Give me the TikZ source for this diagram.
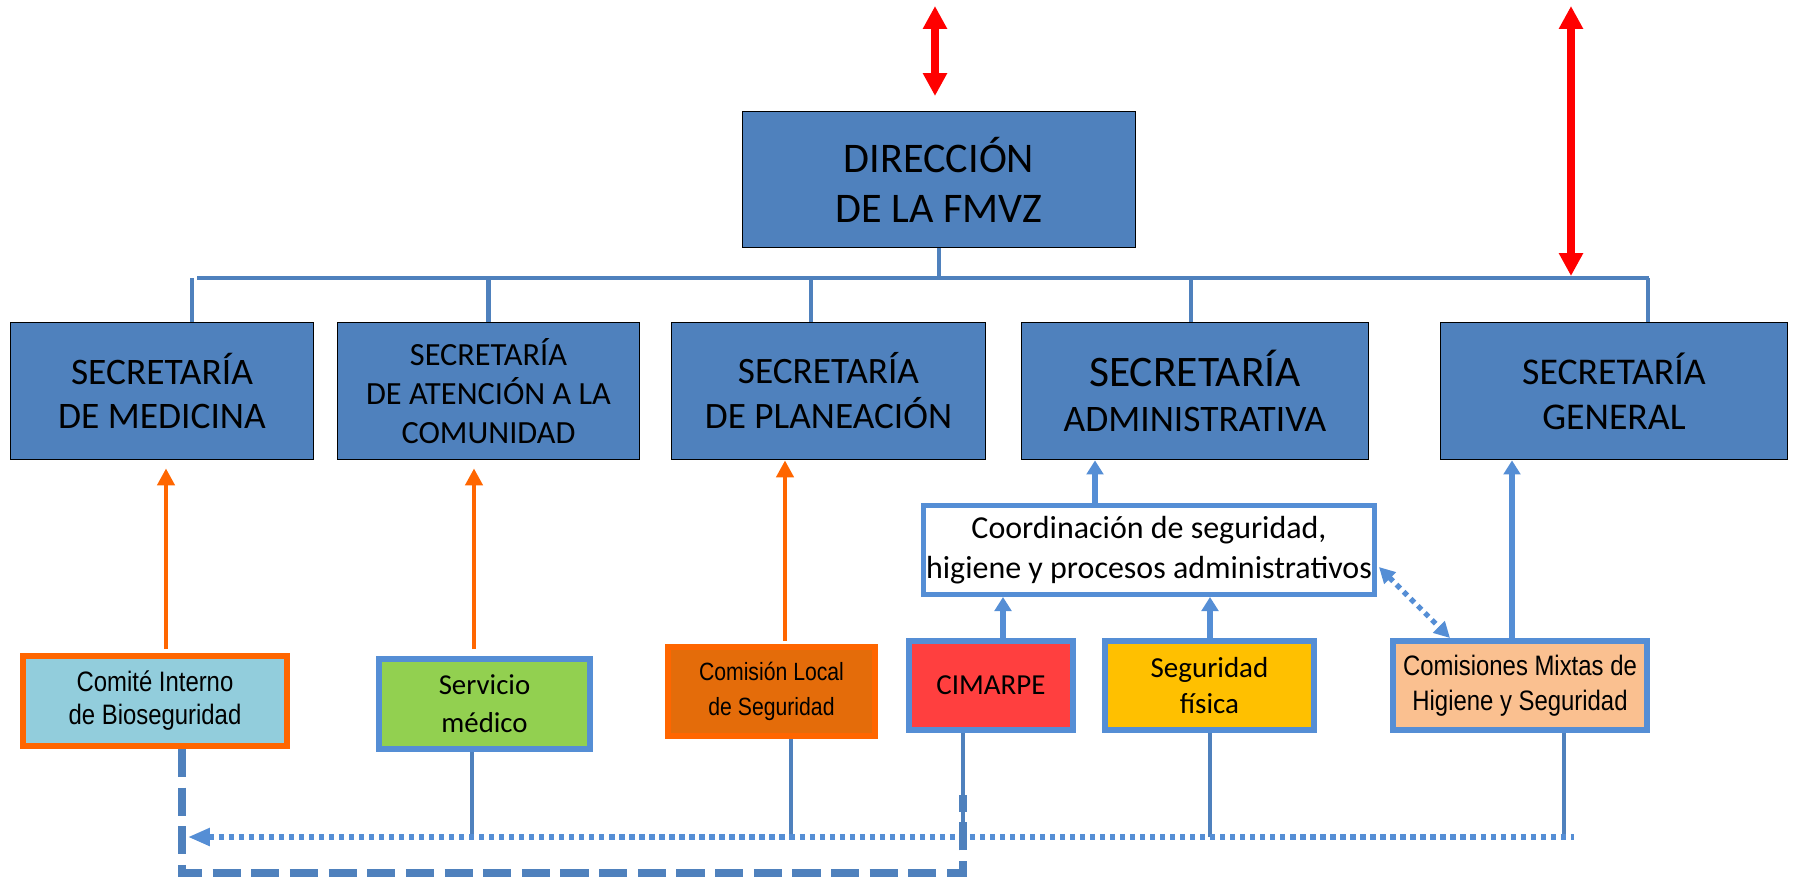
\documentclass[tikz,border=0pt]{standalone}
\usepackage{fontspec}
\newfontfamily\calib{Carlito}
\newfontfamily\narial[FakeStretch=0.85]{Liberation Sans}
\usepackage{tikz}
\usetikzlibrary{arrows.meta}
\usetikzlibrary{calc}
\newdimen\pxl \pxl=0.02cm
\newcommand{\fs}[2]{\fontsize{#1}{#2}\selectfont}
\definecolor{secblue}{HTML}{4F81BD}
\definecolor{lblue}{HTML}{558ED5}
\definecolor{orng}{HTML}{FF6600}
\definecolor{comfill}{HTML}{92CDDC}
\definecolor{servfill}{HTML}{92D050}
\definecolor{locfill}{HTML}{E46C0A}
\definecolor{cimfill}{HTML}{FF3F3F}
\definecolor{segfill}{HTML}{FFC000}
\definecolor{mixfill}{HTML}{FAC090}
\tikzstyle{Asec}=[draw=black,line width=1pt,fill=secblue,minimum height=137\pxl,inner sep=0pt,align=center]
\tikzstyle{Aunit}=[line width=3.4pt,minimum height=89\pxl,inner sep=0pt,align=center]
\tikzstyle{bus}=[draw=secblue,line width=2.8pt]
\tikzstyle{drop}=[draw=secblue,line width=2.5pt]
\tikzstyle{feed}=[draw=secblue,line width=2.6pt]
\tikzstyle{redarr}=[draw=red,line width=4.5pt,{Triangle[length=13pt,width=13pt]}-{Triangle[length=13pt,width=13pt]}]
\tikzstyle{oarr}=[draw=orng,line width=2.8pt,-{Triangle[length=9.7pt,width=9.7pt]}]
\tikzstyle{barr}=[draw=lblue,line width=3pt,-{Triangle[length=8pt,width=9.4pt]}]
\tikzstyle{dotline}=[draw=lblue,line width=3pt,dash pattern=on 3pt off 2.7pt,{Triangle[length=12.5pt,width=9.7pt]}-]
\tikzstyle{dotarr}=[draw=lblue,line width=3pt,dash pattern=on 3pt off 2.7pt,{Triangle[length=9pt,width=9pt]}-{Triangle[length=9pt,width=9pt]}]
\tikzstyle{dashline}=[draw=secblue,line width=4.5pt,dash pattern=on 16pt off 6pt]
\newcommand{\uplink}[4]{\draw[#1] ($(#2.north)+(#4,0)$) -- ($(#2.north |- #3.south)+(#4,0)$);}
\newcommand{\downlink}[3]{\draw[feed] ($(#1.south)+(#3,0)$) -- ($(#1.south |- #2)+(#3,0)$);}

\begin{document}
\begin{tikzpicture}[x=0.02cm,y=-0.02cm]
  \useasboundingbox (0,0) rectangle (1796,880);

  \node[Asec,minimum width=393\pxl,minimum height=136\pxl,font=\calib\fs{24}{28.5}] (dir) at (939,179.5) {DIRECCIÓN\\DE LA FMVZ};
  \node[Asec,minimum width=303\pxl,font=\calib\fs{21.3}{25}] (med) at (162,391) {SECRETARÍA\\DE MEDICINA};
  \node[Asec,minimum width=302\pxl,font=\calib\fs{18.4}{22}] (ate) at (488.5,391) {SECRETARÍA\\DE ATENCIÓN A LA\\COMUNIDAD};
  \node[Asec,minimum width=314\pxl,font=\calib\fs{21.2}{25.6}] (pla) at (828.5,391) {SECRETARÍA\\DE PLANEACIÓN};
  \node[Asec,minimum width=347\pxl,font=\calib\fs{21.3}{25.6}] (adm) at (1195,391) {{\fs{24.8}{25.6}SECRETARÍA}\\ADMINISTRATIVA};
  \node[Asec,minimum width=347\pxl,font=\calib\fs{21.5}{25.6}] (gen) at (1614,391) {SECRETARÍA\\GENERAL};

  \node[Aunit,draw=lblue,line width=2.8pt,fill=white,minimum width=451\pxl,font=\calib\fs{18.2}{22.8}] (coord) at (1149,550) {Coordinación de seguridad,\\higiene y procesos administrativos};

  \node[Aunit,draw=orng,fill=comfill,minimum width=264\pxl,minimum height=90\pxl,font=\narial\fs{16}{18.8}] (comite) at (155,701) {Comité Interno\\de Bioseguridad};
  \node[Aunit,draw=lblue,fill=servfill,minimum width=211\pxl,minimum height=90\pxl,font=\calib\fs{16.4}{21.8}] (servicio) at (484.5,704) {Servicio\\médico};
  \node[Aunit,draw=orng,fill=locfill,minimum width=207\pxl,font=\narial\fs{14.2}{20}] (local) at (771.5,691.5) {Comisión Local\\de Seguridad};
  \node[Aunit,draw=lblue,fill=cimfill,minimum width=164\pxl,font=\calib\fs{16.5}{21}] (cimarpe) at (991,685.5) {CIMARPE};
  \node[Aunit,draw=lblue,fill=segfill,minimum width=209\pxl,font=\calib\fs{16.5}{21}] (seg) at (1209.5,685.5) {Seguridad\\física};
  \node[Aunit,draw=lblue,fill=mixfill,minimum width=254\pxl,font=\narial\fs{16}{20}] (mixtas) at (1520,685.5) {Comisiones Mixtas de\\Higiene y Seguridad};

  % bus under the direction
  \coordinate (busL) at (197,278);
  \coordinate (busR) at (1649,278);
  \draw[drop] (dir.south) -- (dir.south |- busL);
  \draw[bus] (busL) -- (busR);
  \foreach \n/\dx in {med/30,ate/0,pla/-17.5,adm/-4,gen/34}
    \draw[drop] ($(\n.north)+(\dx,0)$) -- ($(\n.north |- busL)+(\dx,0)$);

  % red links
  \coordinate (r1a) at (935,6);
  \coordinate (r1b) at (935,96);
  \coordinate (r2a) at (1571,6);
  \draw[redarr] (r1a) -- (r1b);
  \draw[redarr,shorten >=2\pxl] (r2a) -- (r2a |- busL);

  % reports up
  \uplink{oarr,shorten <=4\pxl,shorten >=8\pxl}{comite}{med}{11}
  \uplink{oarr,shorten <=7\pxl,shorten >=8\pxl}{servicio}{ate}{-10.5}
  \uplink{oarr,shorten <=3\pxl}{local}{pla}{13.5}
  \uplink{barr}{coord}{adm}{-54}
  \uplink{barr}{cimarpe}{coord}{12}
  \uplink{barr}{seg}{coord}{0.5}
  \uplink{barr}{mixtas}{gen}{-8}
  \draw[dotarr] ($(coord.east)+(2,17)$) -- ($(mixtas.north)+(-70,0)$);

  % bottom lines
  \coordinate (dotL) at (188,837);
  \coordinate (dotR) at (1574,837);
  \coordinate (dashEnd) at (963,795);
  \downlink{servicio}{dotL}{-12.5}
  \downlink{local}{dotL}{19.5}
  \downlink{cimarpe}{dotL}{-28}
  \downlink{seg}{dotL}{0.5}
  \downlink{mixtas}{dotL}{44}
  \draw[dotline] (dotL) -- (dotR);
  \draw[dashline] ($(comite.south)+(27,0)$) -- ++(0,124) -| (dashEnd);
\end{tikzpicture}
\end{document}
